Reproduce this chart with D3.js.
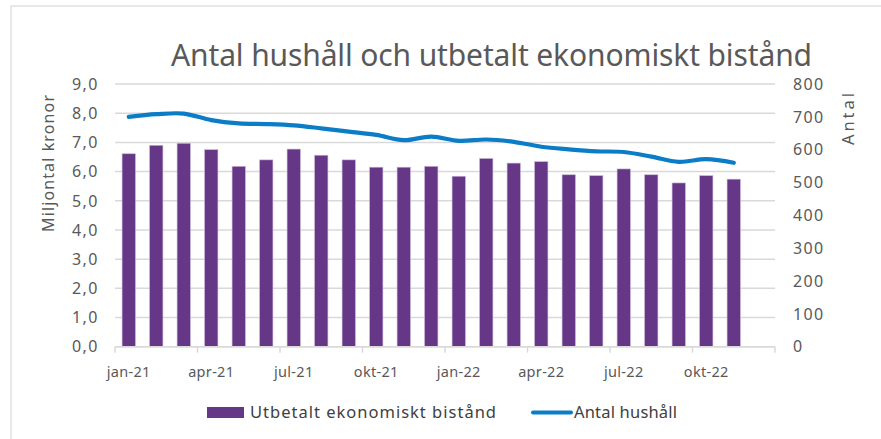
<!DOCTYPE html>
<html>
<head>
<meta charset="utf-8">
<script src="https://cdn.jsdelivr.net/npm/d3@7"></script>
<style>
  html, body { margin: 0; padding: 0; background: #fff; }
  svg { display: block; }
  text { font-family: "Noto Sans", "Open Sans", sans-serif; fill: #595959; }
</style>
</head>
<body>
<svg id="chart" width="881" height="439"></svg>
<script>
const months = ["jan-21","feb-21","mar-21","apr-21","maj-21","jun-21","jul-21","aug-21","sep-21","okt-21","nov-21","dec-21",
                "jan-22","feb-22","mar-22","apr-22","maj-22","jun-22","jul-22","aug-22","sep-22","okt-22","nov-22","dec-22"];
const utbetalt = [6.61, 6.90, 6.97, 6.75, 6.18, 6.40, 6.77, 6.56, 6.40, 6.15, 6.15, 6.18,
                  5.84, 6.45, 6.29, 6.34, 5.89, 5.86, 6.09, 5.89, 5.61, 5.86, 5.74];
const hushall = [700, 708, 710, 690, 680, 678, 674, 665, 655, 645, 629, 640,
                 627, 631, 624, 609, 601, 595, 593, 579, 563, 571, 560];
const leftTicks = [0,1,2,3,4,5,6,7,8,9];
const rightTicks = [0,100,200,300,400,500,600,700,800];
const xLabelMonths = ["jan-21","apr-21","jul-21","okt-21","jan-22","apr-22","jul-22","okt-22"];
const title = "Antal hushåll och utbetalt ekonomiskt bistånd";
const seriesNames = ["Utbetalt ekonomiskt bistånd", "Antal hushåll"];
const leftTitle = "Miljontal kronor";
const rightTitle = "Antal";

const svg = d3.select("#chart");
const plot = {left: 115, right: 775, top: 84, bottom: 346.7};
const purple = "#673787";
const blue = "#0a7dc6";
const grid = "#d9d9d9";

// chart border
svg.append("rect").attr("x", 11).attr("y", 6).attr("width", 900).attr("height", 460)
  .attr("fill", "none").attr("stroke", grid).attr("stroke-width", 1.2);

const x = d3.scaleBand().domain(months).range([plot.left, plot.right])
  .paddingInner(0.515).paddingOuter(0.2575);
const yL = d3.scaleLinear().domain([0, 9]).range([plot.bottom, plot.top]);
const yR = d3.scaleLinear().domain([0, 800]).range([plot.bottom, plot.top]);
const step = x.step();

// gridlines
svg.append("g").selectAll("line").data(leftTicks).join("line")
  .attr("x1", plot.left).attr("x2", plot.right)
  .attr("y1", d => yL(d)).attr("y2", d => yL(d))
  .attr("stroke", grid).attr("stroke-width", 1.5);

// left axis labels
const fmt = d => d.toFixed(1).replace(".", ",");
svg.append("g").selectAll("text").data(leftTicks).join("text")
  .attr("x", 99).attr("y", d => yL(d)).attr("dy", "0.36em")
  .attr("text-anchor", "end").style("font-size", "16px").style("letter-spacing", "1.5px").text(fmt);

// right axis labels
svg.append("g").selectAll("text").data(rightTicks).join("text")
  .attr("x", 793).attr("y", d => yR(d)).attr("dy", "0.36em")
  .attr("text-anchor", "start").style("font-size", "16px").style("letter-spacing", "1.3px").text(d => d);

// bars
svg.append("g").selectAll("rect").data(utbetalt).join("rect")
  .attr("x", (d, i) => x(months[i]))
  .attr("width", x.bandwidth())
  .attr("y", d => yL(d))
  .attr("height", d => yL(0) - yL(d))
  .attr("fill", purple).attr("stroke", "#c9b6d8").attr("stroke-width", 0.6);

// x axis line and ticks
svg.append("line").attr("x1", plot.left).attr("x2", plot.right)
  .attr("y1", plot.bottom).attr("y2", plot.bottom)
  .attr("stroke", grid).attr("stroke-width", 1.5);
const tickIdx = d3.range(0, months.length + 1, 3);
svg.append("g").selectAll("line").data(tickIdx).join("line")
  .attr("x1", i => plot.left + i * step).attr("x2", i => plot.left + i * step)
  .attr("y1", plot.bottom).attr("y2", plot.bottom + 6)
  .attr("stroke", grid).attr("stroke-width", 1.5);
svg.append("g").selectAll("text").data(xLabelMonths).join("text")
  .attr("x", m => x(m) + x.bandwidth() / 2).attr("y", 372).attr("dy", "0.35em")
  .attr("text-anchor", "middle").style("font-size", "14.5px").style("letter-spacing", "0.3px").text(m => m);

// line
const line = d3.line()
  .x((d, i) => x(months[i]) + x.bandwidth() / 2)
  .y(d => yR(d))
  .curve(d3.curveCatmullRom.alpha(0.5));
svg.append("path").datum(hushall).attr("d", line)
  .attr("fill", "none").attr("stroke", blue).attr("stroke-width", 4.2)
  .attr("stroke-linecap", "round").attr("stroke-linejoin", "round");

// title
svg.append("text").attr("x", 171).attr("y", 66)
  .attr("textLength", 641).attr("lengthAdjust", "spacing")
  .style("font-size", "30px").text(title);

// axis titles
svg.append("text").attr("transform", `translate(54,163.5) rotate(-90)`)
  .attr("text-anchor", "middle").attr("textLength", 137).attr("lengthAdjust", "spacing")
  .style("font-size", "16px").text(leftTitle);
svg.append("text").attr("transform", `translate(854,119) rotate(-90)`)
  .attr("text-anchor", "middle").attr("textLength", 52).attr("lengthAdjust", "spacing")
  .style("font-size", "16.5px").text(rightTitle);

// legend
const lg = svg.append("g");
lg.append("rect").attr("x", 207).attr("y", 407).attr("width", 37).attr("height", 11).attr("fill", purple);
lg.append("text").attr("x", 250).attr("y", 418).attr("textLength", 246).attr("lengthAdjust", "spacing")
  .style("font-size", "16.5px").style("fill", "#404040").text(seriesNames[0]);
lg.append("line").attr("x1", 533).attr("x2", 571).attr("y1", 412.5).attr("y2", 412.5)
  .attr("stroke", blue).attr("stroke-width", 4).attr("stroke-linecap", "round");
lg.append("text").attr("x", 574).attr("y", 418).attr("textLength", 103).attr("lengthAdjust", "spacing")
  .style("font-size", "16.5px").style("fill", "#404040").text(seriesNames[1]);
</script>
</body>
</html>
